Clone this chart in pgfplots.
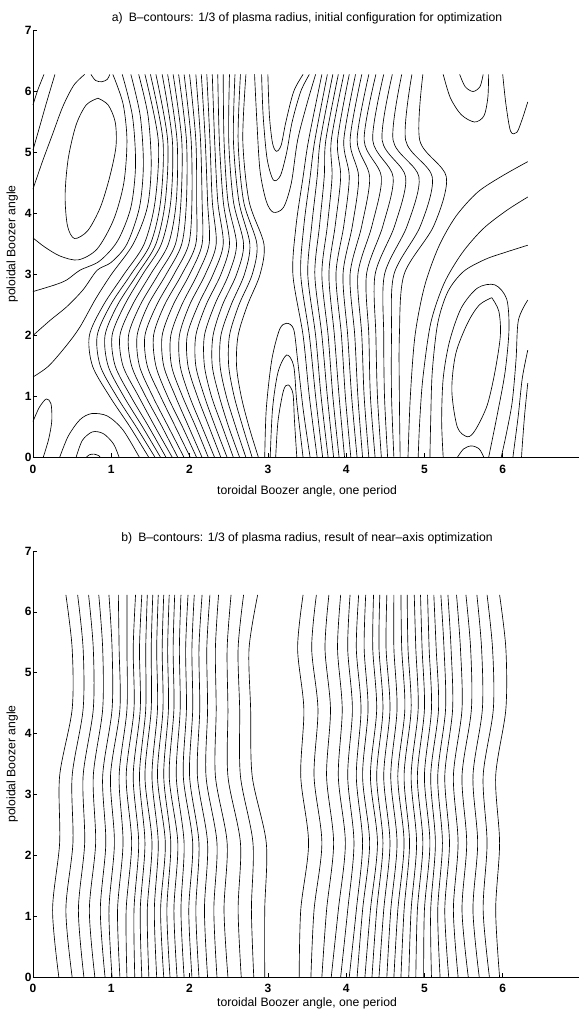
\documentclass[border=0pt]{standalone}
\usepackage{pgfplots}
\pgfplotsset{compat=1.18}
\usepackage{fontspec}
\setmainfont{Liberation Sans}
\begin{document}
\begin{tikzpicture}[x=1pt,y=1pt]
\useasboundingbox (0,0) rectangle (578,1014);
\pgfplotsset{
  boozer/.style={
    scale only axis, width=548pt, height=427pt,
    anchor=south west,
    xmin=0, xmax=7, ymin=0, ymax=7,
    axis x line=bottom, axis y line=left,
    axis line style={-, line width=0.8pt},
    xtick={0,...,6}, ytick={0,...,7},
    tick align=inside, major tick length=4pt,
    tick style={line width=0.6pt, black},
    tick label style={font=\fontsize{12}{13}\selectfont\bfseries},
    xticklabel style={yshift=-4pt},
    yticklabel style={xshift=2pt},
    /pgf/number format/assume math mode=true,
    label style={font=\fontsize{12.2}{13}\selectfont},
    title style={font=\fontsize{12.2}{13}\selectfont, yshift=-3pt},
    xlabel={toroidal Boozer angle, one period},
    ylabel={poloidal Boozer angle},
    xlabel style={yshift=-5pt},
    cycle list={{black, solid, mark=none}},
    every axis plot/.append style={line width=0.65pt, smooth},
    clip=false,
  }
}
% ---------------- panel a ----------------
\begin{axis}[boozer, at={(33pt,556.5pt)},
  title={a)\enspace B--contours: 1/3 of plasma radius, initial configuration for optimization}]
% closed contours
\addplot coordinates {(0.83,5.89)(0.96,5.78)(1.05,5.5)(1.06,5.1)(0.98,4.6)(0.86,4.1)(0.7,3.72)(0.53,3.59)(0.44,3.8)(0.41,4.3)(0.45,4.9)(0.55,5.45)(0.68,5.78)(0.83,5.89)};
\addplot coordinates {(5.86,2.62)(5.95,2.4)(5.97,2.0)(5.9,1.4)(5.8,0.85)(5.65,0.45)(5.55,0.34)(5.42,0.5)(5.35,1.1)(5.4,1.7)(5.55,2.2)(5.7,2.5)(5.86,2.62)};
% left edge
\addplot coordinates {(0,5.78)(0.06,6.02)(0.14,6.28)};
\addplot coordinates {(0,5.04)(0.08,5.4)(0.18,5.85)(0.28,6.28)};
\addplot coordinates {(0,4.40)(0.12,4.85)(0.25,5.3)(0.38,5.75)(0.52,6.1)(0.66,6.28)};
\addplot coordinates {(0.74,6.28)(0.8,6.18)(0.88,6.16)(0.95,6.2)(0.98,6.28)};
\addplot coordinates {(1.02,6.28)(1.15,5.8)(1.2,5.2)(1.16,4.5)(1.03,3.9)(0.82,3.42)(0.58,3.24)(0.35,3.3)(0.15,3.45)(0,3.6)};
\addplot coordinates {(1.14,6.28)(1.27,5.6)(1.31,4.8)(1.25,4.1)(1.08,3.55)(0.85,3.22)(0.6,3.07)(0.43,2.91)(0.28,2.83)(0,2.72)};
\addplot coordinates {(1.25,6.28)(1.37,5.6)(1.41,4.8)(1.36,4.1)(1.2,3.5)(1.0,3.2)(0.82,3.07)(0.64,2.75)(0.43,2.47)(0.22,2.25)(0,2.0)};
\addplot coordinates {(1.35,6.28)(1.47,5.6)(1.51,4.8)(1.46,4.1)(1.28,3.5)(1.0,3.0)(0.8,2.6)(0.6,2.14)(0.43,1.84)(0.2,1.5)(0,1.32)};
% bottom left
\addplot coordinates {(0,0.59)(0.08,0.82)(0.17,0.96)(0.23,0.88)(0.24,0.6)(0.2,0.3)(0.13,0)};
\addplot coordinates {(0.34,0)(0.45,0.35)(0.6,0.62)(0.75,0.72)(0.95,0.68)(1.15,0.45)(1.36,0)};
\addplot coordinates {(0.55,0)(0.63,0.28)(0.76,0.42)(0.9,0.39)(1.03,0.22)(1.1,0)};
\addplot coordinates {(0.68,0)(0.72,0.045)(0.78,0.055)(0.84,0.03)(0.86,0)};
% band left of centre
\addplot coordinates {(1.43,6.28)(1.60,5.2)(1.56,4.2)(1.42,3.5)(1.16,3.0)(0.90,2.5)(0.72,2.0)(0.76,1.5)(0.98,1.0)(1.24,0.5)(1.48,0)};
\addplot coordinates {(1.50,6.28)(1.66,5.2)(1.63,4.2)(1.50,3.5)(1.25,3.0)(0.99,2.5)(0.82,2.0)(0.86,1.5)(1.07,1.0)(1.32,0.5)(1.56,0)};
\addplot coordinates {(1.57,6.28)(1.72,5.2)(1.69,4.2)(1.57,3.5)(1.33,3.0)(1.08,2.5)(0.92,2.0)(0.96,1.5)(1.16,1.0)(1.40,0.5)(1.63,0)};
\addplot coordinates {(1.65,6.28)(1.78,5.2)(1.76,4.2)(1.64,3.5)(1.40,3.0)(1.17,2.5)(1.01,2.0)(1.05,1.5)(1.25,1.0)(1.48,0.5)(1.70,0)};
\addplot coordinates {(1.72,6.28)(1.84,5.2)(1.83,4.2)(1.73,3.5)(1.50,3.0)(1.27,2.5)(1.11,2.0)(1.15,1.5)(1.35,1.0)(1.56,0.5)(1.78,0)};
\addplot coordinates {(1.79,6.28)(1.90,5.2)(1.89,4.2)(1.82,3.5)(1.60,3.0)(1.37,2.5)(1.22,2.0)(1.26,1.5)(1.44,1.0)(1.65,0.5)(1.85,0)};
\addplot coordinates {(1.86,6.28)(1.96,5.2)(1.96,4.2)(1.90,3.5)(1.70,3.0)(1.47,2.5)(1.33,2.0)(1.36,1.5)(1.53,1.0)(1.73,0.5)(1.93,0)};
\addplot coordinates {(1.93,6.28)(2.02,5.2)(2.03,4.2)(1.99,3.5)(1.80,3.0)(1.58,2.5)(1.43,2.0)(1.46,1.5)(1.63,1.0)(1.82,0.5)(2.01,0)};
\addplot coordinates {(2.00,6.28)(2.08,5.2)(2.09,4.2)(2.08,3.5)(1.90,3.0)(1.68,2.5)(1.54,2.0)(1.57,1.5)(1.72,1.0)(1.91,0.5)(2.09,0)};
\addplot coordinates {(2.08,6.28)(2.14,5.2)(2.16,4.2)(2.16,3.5)(2.00,3.0)(1.79,2.5)(1.65,2.0)(1.67,1.5)(1.82,1.0)(1.99,0.5)(2.16,0)};
\addplot coordinates {(2.15,6.28)(2.20,5.2)(2.23,4.2)(2.25,3.5)(2.10,3.0)(1.90,2.5)(1.76,2.0)(1.77,1.5)(1.91,1.0)(2.08,0.5)(2.24,0)};
\addplot coordinates {(2.22,6.28)(2.26,5.2)(2.29,4.2)(2.34,3.5)(2.20,3.0)(2.00,2.5)(1.87,2.0)(1.88,1.5)(2.00,1.0)(2.16,0.5)(2.32,0)};
\addplot coordinates {(2.29,6.28)(2.32,5.2)(2.36,4.2)(2.43,3.5)(2.30,3.0)(2.11,2.5)(1.97,2.0)(1.98,1.5)(2.10,1.0)(2.25,0.5)(2.40,0)};
\addplot coordinates {(2.36,6.28)(2.38,5.2)(2.43,4.2)(2.51,3.5)(2.40,3.0)(2.21,2.5)(2.08,2.0)(2.08,1.5)(2.19,1.0)(2.33,0.5)(2.48,0)};
\addplot coordinates {(2.43,6.28)(2.44,5.2)(2.49,4.2)(2.60,3.5)(2.50,3.0)(2.32,2.5)(2.19,2.0)(2.19,1.5)(2.28,1.0)(2.42,0.5)(2.56,0)};
\addplot coordinates {(2.51,6.28)(2.50,5.2)(2.56,4.2)(2.69,3.5)(2.60,3.0)(2.42,2.5)(2.30,2.0)(2.29,1.5)(2.38,1.0)(2.50,0.5)(2.64,0)};
\addplot coordinates {(2.58,6.28)(2.56,5.2)(2.63,4.2)(2.77,3.5)(2.70,3.0)(2.53,2.5)(2.40,2.0)(2.39,1.5)(2.47,1.0)(2.59,0.5)(2.72,0)};
\addplot coordinates {(2.65,6.28)(2.62,5.2)(2.69,4.2)(2.86,3.5)(2.80,3.0)(2.63,2.5)(2.51,2.0)(2.50,1.5)(2.57,1.0)(2.68,0.5)(2.80,0)};
\addplot coordinates {(2.72,6.28)(2.68,5.2)(2.76,4.2)(2.95,3.5)(2.90,3.0)(2.74,2.5)(2.62,2.0)(2.60,1.5)(2.66,1.0)(2.76,0.5)(2.88,0)};
% centre: U shapes from the top, arches from the bottom
\addplot coordinates {(2.83,6.28)(2.86,5.5)(2.9,4.7)(2.98,4.2)(3.07,4.02)(3.2,4.1)(3.3,4.5)(3.38,5.2)(3.5,5.8)(3.61,6.28)};
\addplot coordinates {(2.92,6.28)(2.94,5.6)(2.99,4.9)(3.07,4.55)(3.16,4.62)(3.24,5.0)(3.31,5.5)(3.42,6.0)(3.53,6.28)};
\addplot coordinates {(3.0,6.28)(3.02,5.6)(3.06,5.15)(3.11,5.02)(3.17,5.12)(3.23,5.5)(3.33,6.0)(3.45,6.28)};
\addplot coordinates {(2.96,0)(2.98,0.8)(3.05,1.6)(3.15,2.1)(3.24,2.2)(3.33,2.1)(3.38,1.6)(3.45,0.8)(3.54,0)};
\addplot coordinates {(3.03,0)(3.06,0.8)(3.13,1.4)(3.24,1.68)(3.33,1.5)(3.37,0.9)(3.45,0)};
\addplot coordinates {(3.1,0)(3.13,0.6)(3.2,1.1)(3.26,1.19)(3.32,1.05)(3.34,0.6)(3.37,0)};
% band right of centre
\addplot coordinates {(3.69,6.28)(3.52,5.2)(3.45,4.6)(3.36,3.8)(3.32,3.0)(3.45,2.0)(3.53,1.0)(3.63,0)};
\addplot coordinates {(3.76,6.28)(3.60,5.2)(3.54,4.6)(3.46,3.8)(3.42,3.0)(3.53,2.0)(3.61,1.0)(3.70,0)};
\addplot coordinates {(3.83,6.28)(3.67,5.2)(3.63,4.6)(3.56,3.8)(3.51,3.0)(3.61,2.0)(3.68,1.0)(3.77,0)};
\addplot coordinates {(3.90,6.28)(3.74,5.2)(3.72,4.6)(3.66,3.8)(3.60,3.0)(3.69,2.0)(3.76,1.0)(3.84,0)};
\addplot coordinates {(3.97,6.28)(3.81,5.2)(3.82,4.6)(3.76,3.8)(3.69,3.0)(3.77,2.0)(3.83,1.0)(3.91,0)};
\addplot coordinates {(4.04,6.28)(3.89,5.2)(3.93,4.6)(3.86,3.8)(3.78,3.0)(3.85,2.0)(3.91,1.0)(3.98,0)};
\addplot coordinates {(4.12,6.28)(3.97,5.2)(4.04,4.6)(3.97,3.8)(3.87,3.0)(3.94,2.0)(3.99,1.0)(4.06,0)};
\addplot coordinates {(4.20,6.28)(4.05,5.2)(4.16,4.6)(4.08,3.8)(3.96,3.0)(4.02,2.0)(4.07,1.0)(4.14,0)};
\addplot coordinates {(4.29,6.28)(4.14,5.2)(4.30,4.6)(4.20,3.8)(4.05,3.0)(4.11,2.0)(4.15,1.0)(4.21,0)};
\addplot coordinates {(4.38,6.28)(4.23,5.2)(4.45,4.6)(4.33,3.8)(4.15,3.0)(4.20,2.0)(4.23,1.0)(4.29,0)};
\addplot coordinates {(4.48,6.28)(4.34,5.2)(4.60,4.6)(4.47,3.8)(4.26,3.0)(4.29,2.0)(4.31,1.0)(4.37,0)};
\addplot coordinates {(4.59,6.28)(4.46,5.2)(4.76,4.6)(4.62,3.8)(4.37,3.0)(4.38,2.0)(4.40,1.0)(4.45,0)};
\addplot coordinates {(4.71,6.28)(4.60,5.2)(4.93,4.6)(4.78,3.8)(4.49,3.0)(4.48,2.0)(4.49,1.0)(4.53,0)};
\addplot coordinates {(4.84,6.28)(4.76,5.2)(5.10,4.6)(4.95,3.8)(4.61,3.0)(4.58,2.0)(4.58,1.0)(4.61,0)};
\addplot coordinates {(4.98,6.28)(4.94,5.2)(5.28,4.6)(5.12,3.8)(4.74,3.0)(4.68,2.0)(4.68,1.0)(4.69,0)};
% right edge and around the lower right extremum
\addplot coordinates {(6.32,4.85)(6.0,4.62)(5.68,4.35)(5.4,3.95)(5.18,3.45)(5.0,2.8)(4.88,2.0)(4.82,1.0)(4.79,0)};
\addplot coordinates {(6.32,4.27)(6.05,4.05)(5.75,3.75)(5.48,3.35)(5.25,2.85)(5.08,2.2)(4.98,1.3)(4.94,0.6)(4.92,0)};
\addplot coordinates {(6.32,3.48)(6.05,3.37)(5.78,3.25)(5.5,3.05)(5.3,2.72)(5.17,2.2)(5.1,1.4)(5.08,0.6)(5.07,0)};
\addplot coordinates {(5.24,0)(5.22,0.6)(5.24,1.3)(5.32,1.9)(5.47,2.45)(5.68,2.78)(5.9,2.83)(6.05,2.6)(6.08,2.1)(6.03,1.4)(5.93,0.7)(5.82,0)};
\addplot coordinates {(5.42,0)(5.5,0.14)(5.6,0.19)(5.7,0.14)(5.76,0)};
\addplot coordinates {(6.32,2.58)(6.2,2.25)(6.17,1.6)(6.12,0.9)(6.04,0.35)(5.98,0)};
\addplot coordinates {(6.32,1.76)(6.25,1.3)(6.2,0.7)(6.15,0.2)(6.13,0)};
\addplot coordinates {(6.32,1.22)(6.28,0.7)(6.25,0.2)(6.24,0)};
% top right
\addplot coordinates {(5.24,6.28)(5.33,5.9)(5.47,5.62)(5.64,5.5)(5.76,5.6)(5.81,5.9)(5.82,6.28)};
\addplot coordinates {(5.45,6.28)(5.52,6.08)(5.62,6.0)(5.71,6.08)(5.75,6.28)};
\addplot coordinates {(6.0,6.28)(6.04,5.8)(6.1,5.35)(6.18,5.33)(6.25,5.55)(6.32,5.83)};
\end{axis}
% ---------------- panel b ----------------
\begin{axis}[boozer, at={(33pt,37pt)}, height=426pt,
  xticklabel style={yshift=0pt}, xlabel style={yshift=7pt},
  title={b)\enspace B--contours: 1/3 of plasma radius, result of near--axis optimization}]
% left group
\addplot coordinates {(0.42,6.28)(0.50,5.4)(0.50,4.4)(0.34,3.3)(0.34,2.2)(0.25,1.1)(0.33,0)};
\addplot coordinates {(0.57,6.28)(0.64,5.4)(0.64,4.4)(0.50,3.3)(0.51,2.2)(0.42,1.1)(0.50,0)};
\addplot coordinates {(0.71,6.28)(0.77,5.4)(0.77,4.4)(0.64,3.3)(0.66,2.2)(0.58,1.1)(0.65,0)};
\addplot coordinates {(0.84,6.28)(0.89,5.4)(0.89,4.4)(0.77,3.3)(0.80,2.2)(0.72,1.1)(0.79,0)};
\addplot coordinates {(0.97,6.28)(1.01,5.4)(1.01,4.4)(0.89,3.3)(0.93,2.2)(0.86,1.1)(0.92,0)};
\addplot coordinates {(1.09,6.28)(1.10,5.4)(1.11,4.4)(0.99,3.3)(1.04,2.2)(0.97,1.1)(1.01,0)};
\addplot coordinates {(1.20,6.28)(1.20,5.4)(1.20,4.4)(1.10,3.3)(1.15,2.2)(1.08,1.1)(1.11,0)};
\addplot coordinates {(1.31,6.28)(1.28,5.4)(1.29,4.4)(1.19,3.3)(1.26,2.2)(1.19,1.1)(1.20,0)};
\addplot coordinates {(1.39,6.28)(1.36,5.4)(1.37,4.4)(1.28,3.3)(1.35,2.2)(1.29,1.1)(1.30,0)};
\addplot coordinates {(1.46,6.28)(1.44,5.4)(1.44,4.4)(1.36,3.3)(1.43,2.2)(1.37,1.1)(1.39,0)};
\addplot coordinates {(1.53,6.28)(1.51,5.4)(1.51,4.4)(1.43,3.3)(1.52,2.2)(1.46,1.1)(1.48,0)};
\addplot coordinates {(1.60,6.28)(1.58,5.4)(1.59,4.4)(1.52,3.3)(1.60,2.2)(1.55,1.1)(1.58,0)};
\addplot coordinates {(1.67,6.28)(1.65,5.4)(1.66,4.4)(1.59,3.3)(1.69,2.2)(1.63,1.1)(1.67,0)};
\addplot coordinates {(1.74,6.28)(1.72,5.4)(1.73,4.4)(1.67,3.3)(1.76,2.2)(1.71,1.1)(1.75,0)};
\addplot coordinates {(1.81,6.28)(1.79,5.4)(1.80,4.4)(1.74,3.3)(1.85,2.2)(1.80,1.1)(1.84,0)};
\addplot coordinates {(1.89,6.28)(1.87,5.4)(1.88,4.4)(1.83,3.3)(1.93,2.2)(1.89,1.1)(1.93,0)};
\addplot coordinates {(1.98,6.28)(1.95,5.4)(1.96,4.4)(1.92,3.3)(2.04,2.2)(1.99,1.1)(2.03,0)};
\addplot coordinates {(2.06,6.28)(2.03,5.4)(2.04,4.4)(2.00,3.3)(2.12,2.2)(2.08,1.1)(2.12,0)};
\addplot coordinates {(2.16,6.28)(2.12,5.4)(2.13,4.4)(2.10,3.3)(2.23,2.2)(2.19,1.1)(2.23,0)};
\addplot coordinates {(2.26,6.28)(2.22,5.4)(2.23,4.4)(2.21,3.3)(2.35,2.2)(2.31,1.1)(2.35,0)};
\addplot coordinates {(2.37,6.28)(2.33,5.4)(2.34,4.4)(2.33,3.3)(2.48,2.2)(2.44,1.1)(2.49,0)};
\addplot coordinates {(2.53,6.28)(2.48,5.4)(2.49,4.4)(2.49,3.3)(2.65,2.2)(2.62,1.1)(2.66,0)};
\addplot coordinates {(2.69,6.28)(2.62,5.4)(2.64,4.4)(2.65,3.3)(2.81,2.2)(2.79,1.1)(2.82,0)};
\addplot coordinates {(2.87,6.28)(2.76,5.4)(2.78,4.4)(2.80,3.3)(2.98,2.2)(2.96,1.1)(2.96,0)};
% right group
\addplot coordinates {(3.45,6.28)(3.38,5.4)(3.46,4.4)(3.42,3.3)(3.52,2.2)(3.42,1.1)(3.40,0)};
\addplot coordinates {(3.62,6.28)(3.56,5.4)(3.64,4.4)(3.59,3.3)(3.69,2.2)(3.59,1.1)(3.55,0)};
\addplot coordinates {(3.78,6.28)(3.73,5.4)(3.80,4.4)(3.75,3.3)(3.84,2.2)(3.75,1.1)(3.69,0)};
\addplot coordinates {(3.93,6.28)(3.89,5.4)(3.95,4.4)(3.90,3.3)(3.99,2.2)(3.90,1.1)(3.81,0)};
\addplot coordinates {(4.05,6.28)(4.02,5.4)(4.08,4.4)(4.02,3.3)(4.10,2.2)(4.02,1.1)(3.93,0)};
\addplot coordinates {(4.16,6.28)(4.13,5.4)(4.19,4.4)(4.13,3.3)(4.21,2.2)(4.13,1.1)(4.04,0)};
\addplot coordinates {(4.25,6.28)(4.23,5.4)(4.28,4.4)(4.21,3.3)(4.30,2.2)(4.21,1.1)(4.14,0)};
\addplot coordinates {(4.35,6.28)(4.34,5.4)(4.39,4.4)(4.31,3.3)(4.40,2.2)(4.31,1.1)(4.24,0)};
\addplot coordinates {(4.43,6.28)(4.42,5.4)(4.47,4.4)(4.39,3.3)(4.47,2.2)(4.39,1.1)(4.33,0)};
\addplot coordinates {(4.52,6.28)(4.51,5.4)(4.56,4.4)(4.48,3.3)(4.56,2.2)(4.48,1.1)(4.42,0)};
\addplot coordinates {(4.61,6.28)(4.61,5.4)(4.65,4.4)(4.57,3.3)(4.65,2.2)(4.57,1.1)(4.52,0)};
\addplot coordinates {(4.70,6.28)(4.71,5.4)(4.75,4.4)(4.66,3.3)(4.74,2.2)(4.66,1.1)(4.61,0)};
\addplot coordinates {(4.78,6.28)(4.79,5.4)(4.83,4.4)(4.74,3.3)(4.81,2.2)(4.74,1.1)(4.70,0)};
\addplot coordinates {(4.87,6.28)(4.89,5.4)(4.92,4.4)(4.83,3.3)(4.90,2.2)(4.83,1.1)(4.80,0)};
\addplot coordinates {(4.95,6.28)(4.97,5.4)(5.00,4.4)(4.91,3.3)(4.98,2.2)(4.91,1.1)(4.89,0)};
\addplot coordinates {(5.04,6.28)(5.06,5.4)(5.09,4.4)(5.00,3.3)(5.07,2.2)(5.00,1.1)(4.99,0)};
\addplot coordinates {(5.12,6.28)(5.15,5.4)(5.18,4.4)(5.08,3.3)(5.14,2.2)(5.08,1.1)(5.09,0)};
\addplot coordinates {(5.21,6.28)(5.25,5.4)(5.27,4.4)(5.17,3.3)(5.23,2.2)(5.17,1.1)(5.20,0)};
\addplot coordinates {(5.30,6.28)(5.34,5.4)(5.36,4.4)(5.26,3.3)(5.32,2.2)(5.26,1.1)(5.31,0)};
\addplot coordinates {(5.41,6.28)(5.46,5.4)(5.48,4.4)(5.37,3.3)(5.43,2.2)(5.37,1.1)(5.43,0)};
\addplot coordinates {(5.53,6.28)(5.59,5.4)(5.60,4.4)(5.48,3.3)(5.54,2.2)(5.48,1.1)(5.56,0)};
\addplot coordinates {(5.67,6.28)(5.73,5.4)(5.74,4.4)(5.62,3.3)(5.68,2.2)(5.62,1.1)(5.70,0)};
\addplot coordinates {(5.80,6.28)(5.87,5.4)(5.88,4.4)(5.75,3.3)(5.80,2.2)(5.75,1.1)(5.83,0)};
\addplot coordinates {(5.96,6.28)(6.04,5.4)(6.04,4.4)(5.91,3.3)(5.96,2.2)(5.91,1.1)(5.96,0)};
\end{axis}
\end{tikzpicture}
\end{document}
